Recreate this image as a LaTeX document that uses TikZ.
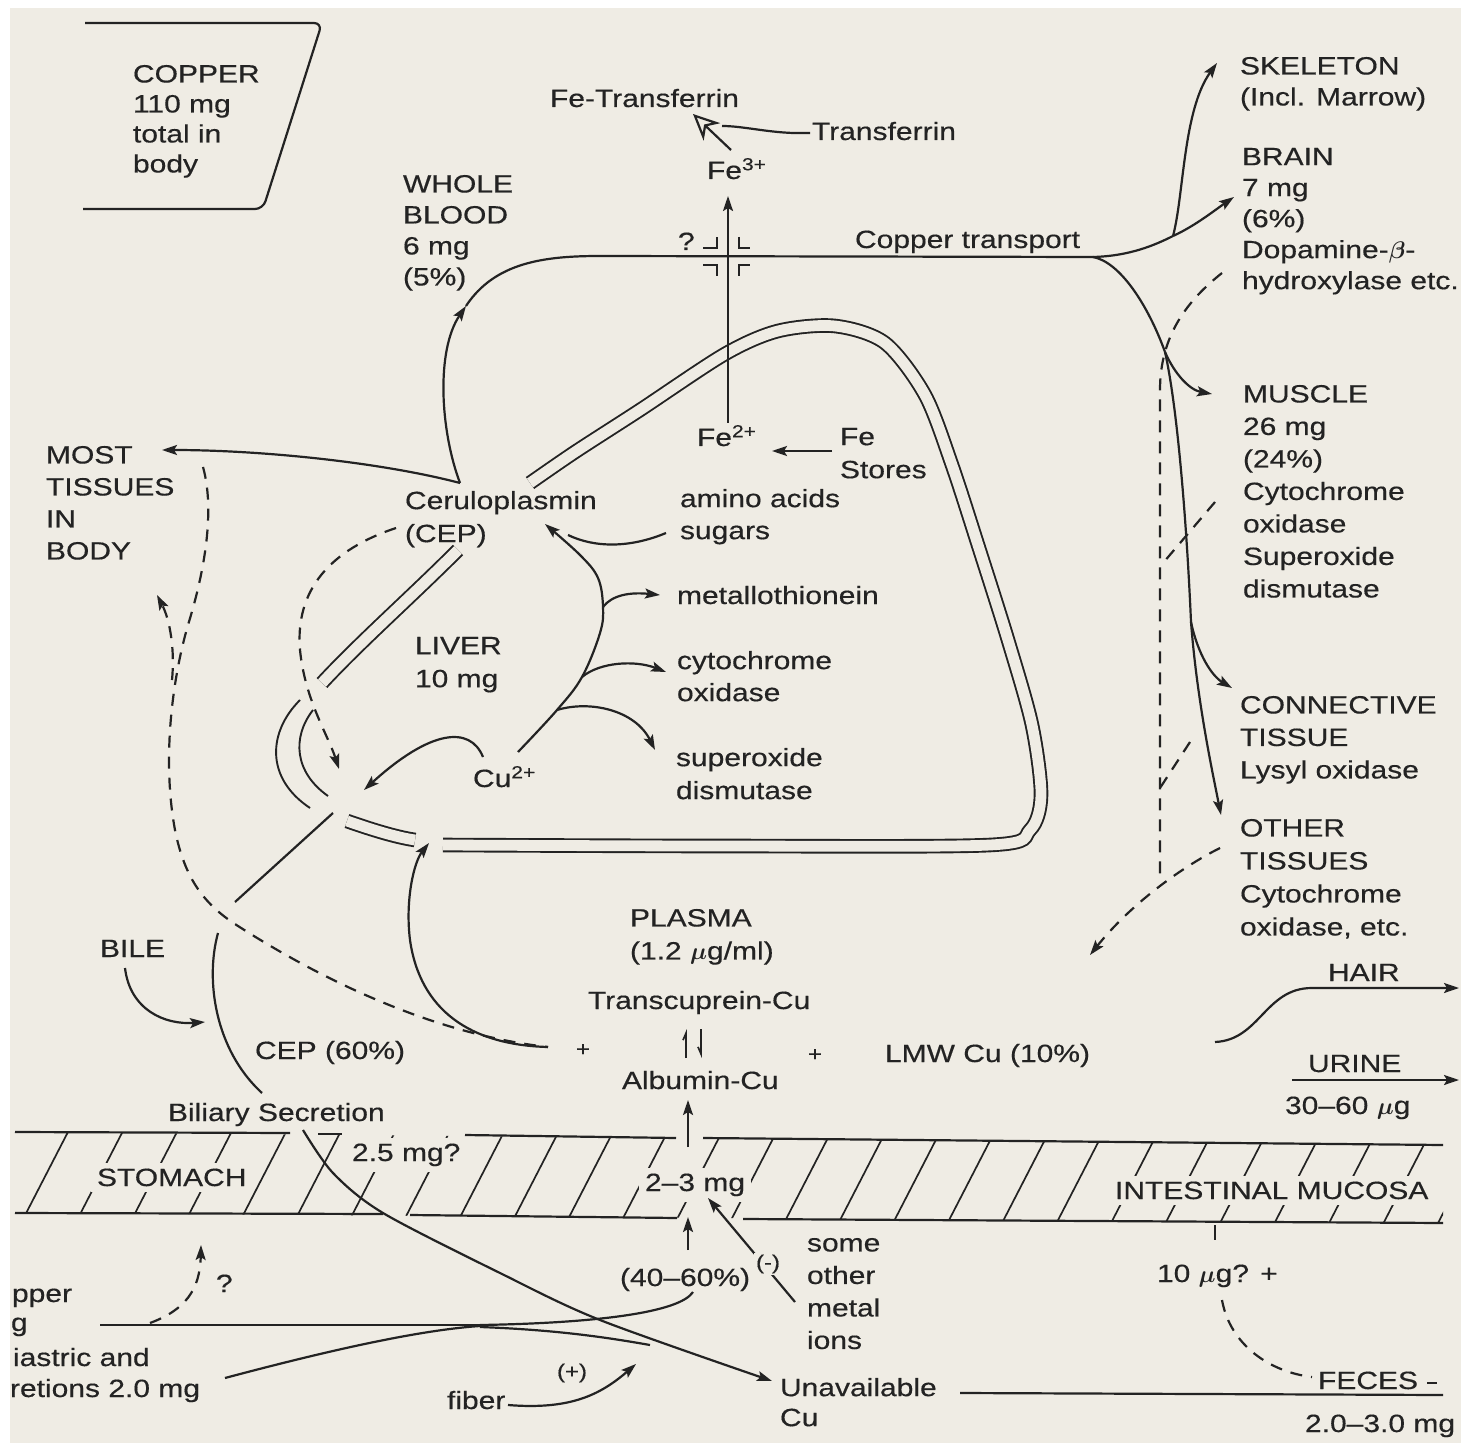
\documentclass[tikz,border=0pt]{standalone}
\usepackage{amsmath}
\usepackage{fontspec}
\setmainfont{Liberation Sans}[FakeStretch=1.2,FakeBold=0.4]
\usetikzlibrary{arrows.meta}
\definecolor{bg}{RGB}{239,236,228}
\definecolor{ink}{RGB}{35,35,35}
\begin{document}
\begin{tikzpicture}[x=0.5pt,y=-0.5pt,
 every node/.style={inner sep=0pt,outer sep=0pt,text=ink,align=left,font=\fontsize{12.5}{16}\selectfont},
 ln/.style={draw=ink,line width=1.1pt},
 thinln/.style={draw=ink,line width=0.85pt},
 arr/.style={ln,-{Stealth[length=7.5pt,width=5pt,inset=1.5pt]}},
 dsh/.style={ln,dash pattern=on 6pt off 4.5pt},
 darr/.style={dsh,-{Stealth[length=7.5pt,width=5pt,inset=1.5pt]}},
 memb/.style={draw=ink,line width=0.95pt,double=bg,double distance=5.4pt},
 mline/.style={draw=ink,line width=0.95pt},
 hatch/.style={draw=ink,line width=0.85pt},
 inband/.style={fill=bg,inner sep=3pt},
 fsa/.style={font=\fontsize{12.5}{15}\selectfont},
 fsb/.style={font=\fontsize{12.5}{15.5}\selectfont},
 fsc/.style={font=\fontsize{12.5}{16.25}\selectfont},
 fsd/.style={font=\fontsize{12.5}{16.5}\selectfont},
 smallf/.style={font=\fontsize{10}{11}\selectfont},
]
% background
\fill[white] (0,0) rectangle (1461,1443);
\fill[bg] (10,8) rectangle (1461,1443);
\useasboundingbox (0,0) rectangle (1461,1443);

% ---------- hatched band (stomach / intestinal mucosa)
\begin{scope}
\clip (15,1132) -- (1443,1145) -- (1443,1223) -- (15,1213) -- cycle;
\foreach \i in {0,...,27} \draw[hatch] ({20+54.5*\i},1225) -- ++(49,-95);
\end{scope}
\draw[ln] (15,1132) -- (290,1133);
\draw[ln] (318,1134) -- (342,1134);
\draw[ln] (465,1135) -- (676,1138);
\draw[ln] (703,1138) -- (1443,1145);
\draw[ln] (15,1213) -- (383,1214);
\draw[ln] (410,1215) -- (677,1218);
\draw[ln] (743,1219) -- (1443,1223);
\node[inband,anchor=base west] (twofive) at (346,1161) {2.5 mg?};
\node[inband,anchor=base west] (stomach) at (91,1186) {STOMACH};
\node[inband,anchor=base west] (twothree) at (639,1191) {2--3 mg};
\node[inband,anchor=base west] (intmuc) at (1109,1199) {INTESTINAL MUCOSA};

% ---------- liver membrane (double line)
\draw[memb] plot[smooth,tension=0.5] coordinates {(443,845) (720,846) (990,845) (1030,830) (1041,795) (1032,725) (1008,640) (978,545) (952,465) (925,395) (885,343) (835,326) (778,331) (725,354) (640,410) (575,452) (530,483)};
\draw[memb] (347,821) .. controls (370,829) and (395,837) .. (415,840);
\draw[memb] (458,550) .. controls (410,598) and (360,642) .. (322,683);
\draw[mline] (300,700) .. controls (268,732) and (265,778) .. (310,808);
\draw[mline] (313,710) .. controls (292,737) and (294,772) .. (328,796);

% ---------- copper box
\draw[ln,rounded corners=4pt] (85,23) -- (322,23) -- (263,209) -- (83,209);

% ---------- text nodes
\node[fsa,anchor=north west] (copper) at (133,65) {COPPER\\110 mg\\total in\\body};
\node[anchor=base west] (fetrans) at (550,107) {Fe-Transferrin};
\node[anchor=base west] (transf) at (812,140) {Transferrin};
\node[anchor=base west] (fe3) at (707,179) {Fe\textsuperscript{3+}};
\node[fsb,anchor=north west] (blood) at (403,175) {WHOLE\\BLOOD\\6 mg\\(5\%)};
\node[anchor=base west] (qm) at (678,250) {?};
\node[anchor=base west] (ctrans) at (855,248) {Copper transport};
\node[fsb,anchor=north west] (skel) at (1240,57) {SKELETON\\(Incl. Marrow)};
\node[fsb,anchor=north west] (brain) at (1242,148) {BRAIN\\7 mg\\(6\%)\\Dopamine-$\boldsymbol{\beta}$-\\hydroxylase etc.};
\node[fsc,anchor=north west] (muscle) at (1243,385) {MUSCLE\\26 mg\\(24\%)\\Cytochrome\\oxidase\\Superoxide\\dismutase};
\node[fsc,anchor=north west] (conn) at (1240,696) {CONNECTIVE\\TISSUE\\Lysyl oxidase};
\node[fsd,anchor=north west] (other) at (1240,819) {OTHER\\TISSUES\\Cytochrome\\oxidase, etc.};
\node[anchor=north west] (most) at (46,446) {MOST\\TISSUES\\IN\\BODY};
\node[fsd,anchor=north west] (cer) at (405,491) {Ceruloplasmin\\(CEP)};
\node[anchor=base west] (fe2) at (697,446) {Fe\textsuperscript{2+}};
\node[fsd,anchor=north west] (fest) at (840,428) {Fe\\Stores};
\node[anchor=north west] (amino) at (680,489) {amino acids\\sugars};
\node[anchor=base west] (metal) at (677,604) {metallothionein};
\node[anchor=north west] (cyto) at (677,651) {cytochrome\\oxidase};
\node[fsd,anchor=north west] (sod) at (676,748) {superoxide\\dismutase};
\node[fsd,anchor=north west] (liver) at (415,637) {LIVER\\10 mg};
\node[anchor=base west] (cu) at (473,787) {Cu\textsuperscript{2+}};
\node[anchor=base west] (bile) at (100,957) {BILE};
\node[anchor=base west] (cep60) at (255,1059) {CEP (60\%)};
\node[anchor=base west] (bilsec) at (168,1121) {Biliary Secretion};
\node[fsd,anchor=north west] (plasma) at (630,909) {PLASMA\\(1.2 $\boldsymbol{\mu}$g/ml)};
\node[anchor=base west] (transc) at (588,1009) {Transcuprein-Cu};
\node[anchor=base west] (albu) at (622,1089) {Albumin-Cu};
\node[anchor=base west] (lmw) at (885,1062) {LMW Cu (10\%)};
\node[smallf] (plusa) at (583,1050) {+};
\node[smallf] (plusb) at (815,1055) {+};
\node[anchor=base west] (hair) at (1328,981) {HAIR};
\node[anchor=base west] (urine) at (1308,1072) {URINE};
\node[anchor=base west] (urineamt) at (1285,1114) {30--60 $\boldsymbol{\mu}$g};
\node[anchor=base west] (pct) at (620,1286) {(40--60\%)};
\node[fsc,anchor=north west] (ions) at (807,1238) {some\\other\\metal\\ions};
\node[anchor=base west] (tenug) at (1157,1282) {10 $\boldsymbol{\mu}$g? +};
\node[anchor=base west] (fiber) at (447,1409) {fiber};
\node[smallf] (plusf) at (572,1373) {(+)};
\node[fsa,anchor=north west] (unav) at (780,1378) {Unavailable\\Cu};
\node[anchor=base west] (feces) at (1318,1389) {FECES};
\node[anchor=base west] (fecamt) at (1305,1432) {2.0--3.0 mg};
\node[anchor=base west] (qmb) at (216,1292) {?};
% texts that the figure shows cut at its left edge
\node[anchor=base west] (diet) at (12,1302) {pper};
\node[anchor=base west] (dietmg) at (11,1331) {g};
\node[anchor=base west] (gastric) at (13,1366) {iastric and};
\node[anchor=base west] (secr) at (10,1397) {retions 2.0 mg};

% ---------- copper transport system
\coordinate (v1) at (460,483);
\coordinate (brch) at (1093,257);
\draw[arr] (v1) .. controls (440,430) and (436,350) .. (466,306);
\draw[ln] (466,306) .. controls (495,262) and (545,256) .. (600,256) -- (brch);
\draw[arr] (v1) .. controls (380,462) and (260,450) .. (162,450);
\coordinate (sj) at (1173,236);
\draw[ln] (brch) .. controls (1130,256) and (1155,245) .. (sj);
\draw[arr] (sj) .. controls (1195,226) and (1215,210) .. (1234,197);
\draw[arr] (sj) .. controls (1184,195) and (1183,110) .. (1217,63);
\coordinate (mj) at (1165,352);
\draw[ln] (brch) .. controls (1120,262) and (1148,305) .. (mj);
\draw[arr] (mj) .. controls (1175,375) and (1190,390) .. (1212,394);
\coordinate (cj) at (1191,622);
\draw[ln] (mj) .. controls (1178,410) and (1187,530) .. (cj);
\draw[arr] (cj) .. controls (1197,700) and (1212,770) .. (1221,815);
\draw[arr] (cj) .. controls (1198,655) and (1212,676) .. (1232,688);

% dashed returns (right)
\draw[dsh] (1222,273) .. controls (1188,300) and (1160,335) .. (1160,390) -- (1160,880);
\draw[darr] (1220,848) .. controls (1180,868) and (1130,905) .. (1090,955);
\draw[dsh] (1215,502) -- (1163,563);
\draw[dsh] (1190,742) -- (1160,788);

% ---------- iron
\draw[arr] (728,423) -- (728,196);
\draw[thinln] (703,248) -- (717,248) -- (717,237);
\draw[thinln] (739,237) -- (739,248) -- (750,248);
\draw[thinln] (703,265) -- (717,265) -- (717,276);
\draw[thinln] (739,276) -- (739,265) -- (750,265);
\draw[ln,-{Stealth[open,length=13pt,width=12pt,inset=4pt]}] (731,150) -- (693,114);
\draw[ln] (810,133) -- (793,133) .. controls (765,132) and (742,126) .. (722,126);
\draw[arr] (832,451) -- (772,451);

% ---------- inside liver
\draw[arr] plot[smooth,tension=0.6] coordinates {(518,752) (557,710) (582,677) (600,633) (603,607) (598,578) (580,555) (545,524)};
\draw[ln] (666,533) .. controls (630,548) and (595,548) .. (568,535);
\draw[arr] (603,607) .. controls (612,595) and (630,592) .. (660,595);
\draw[arr] (582,677) .. controls (600,662) and (635,660) .. (666,672);
\draw[arr] (557,710) .. controls (590,700) and (635,710) .. (655,750);
\draw[arr] (483,757) .. controls (470,725) and (430,730) .. (364,790);
\draw[darr] (396,528) .. controls (330,550) and (295,590) .. (300,650) .. controls (305,700) and (328,735) .. (339,769);

% ---------- left side
\draw[dsh] (203,467) .. controls (215,510) and (205,570) .. (188,625) .. controls (172,680) and (162,760) .. (175,830) .. controls (185,880) and (205,905) .. (238,926) .. controls (330,985) and (440,1035) .. (548,1047);
\draw[darr] (172,680) .. controls (175,650) and (170,620) .. (157,595);
\draw[arr] (548,1047) .. controls (470,1045) and (420,1010) .. (410,940) .. controls (405,900) and (414,862) .. (429,843);
\draw[ln] (333,813) -- (235,902);
\draw[ln] (218,933) .. controls (205,980) and (215,1050) .. (262,1093);
\draw[arr] plot[smooth,tension=0.5] coordinates {(303,1130) (333,1173) (383,1213) (500,1273) (600,1320) (772,1381)};
\draw[arr] (125,968) .. controls (130,1010) and (165,1025) .. (205,1022);

% ---------- plasma equilibrium
\draw[thinln,-{Straight Barb[left,length=3.5pt,width=3pt]}] (686,1058) -- (686,1029);
\draw[thinln,-{Straight Barb[right,length=3.5pt,width=3pt]}] (701,1029) -- (701,1058);

% ---------- bottom: absorption
\draw[ln] (100,1325) -- (480,1325);
\draw[ln] (480,1325) .. controls (600,1323) and (680,1312) .. (693,1292);
\draw[ln] (225,1378) .. controls (330,1350) and (420,1330) .. (480,1326);
\draw[ln] (480,1327) .. controls (560,1330) and (610,1338) .. (650,1345);
\draw[darr] (150,1323) .. controls (185,1310) and (200,1290) .. (201,1245);
\draw[arr] (508,1405) .. controls (570,1410) and (600,1395) .. (636,1364);
\draw[arr] (688,1250) -- (688,1217);
\draw[arr] (688,1147) -- (688,1100);
\draw[arr] (795,1302) -- (708,1198);
\node[smallf,fill=bg,inner sep=1pt] (minus) at (768,1264) {(-)};
\draw[ln] (960,1393) -- (1443,1395);
\draw[dsh] (1222,1300) .. controls (1230,1345) and (1270,1372) .. (1312,1377);
\draw[ln] (1215,1225) -- (1215,1240);
\draw[ln] (1427,1383) -- (1437,1383);
\draw[arr] (1215,1042) .. controls (1260,1040) and (1265,988) .. (1312,988) -- (1459,988);
\draw[arr] (1292,1080) -- (1459,1080);
\end{tikzpicture}
\end{document}
